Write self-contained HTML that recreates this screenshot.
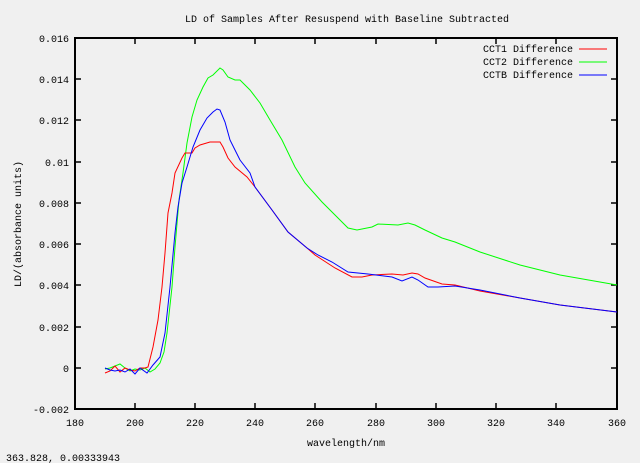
<!DOCTYPE html>
<html><head><style>body{margin:0;background:#f0f0f0}svg{display:block}text{font-family:"Liberation Mono","DejaVu Sans Mono",monospace;font-size:10px;fill:#000}</style></head><body>
<svg width="640" height="463" viewBox="0 0 640 463">
<rect width="640" height="463" fill="#f0f0f0"/>
<text x="347" y="22" text-anchor="middle">LD of Samples After Resuspend with Baseline Subtracted</text>
<g stroke="#000" stroke-width="1.5">
<path d="M75,79h6M75,120h6M75,162h6M75,203h6M75,244h6M75,285h6M75,327h6M75,368h6M611,79h6M611,120h6M611,162h6M611,203h6M611,244h6M611,285h6M611,327h6M611,368h6"/>
<path d="M135,409v-6M195,409v-6M255,409v-6M315,409v-6M376,409v-6M436,409v-6M496,409v-6M556,409v-6M135,38v6M195,38v6M255,38v6M315,38v6M376,38v6M436,38v6M496,38v6M556,38v6"/>
</g>
<rect x="75" y="38" width="542" height="371" fill="none" stroke="#000" stroke-width="2"/>
<g text-anchor="end">
<text x="69" y="42">0.016</text><text x="69" y="83">0.014</text><text x="69" y="124">0.012</text><text x="69" y="166">0.01</text><text x="69" y="207">0.008</text><text x="69" y="248">0.006</text><text x="69" y="289">0.004</text><text x="69" y="331">0.002</text><text x="69" y="372">0</text><text x="69" y="413">-0.002</text>
</g>
<g text-anchor="middle">
<text x="75" y="426">180</text><text x="135" y="426">200</text><text x="195" y="426">220</text><text x="255" y="426">240</text><text x="315" y="426">260</text><text x="376" y="426">280</text><text x="436" y="426">300</text><text x="496" y="426">320</text><text x="556" y="426">340</text><text x="617" y="426">360</text>
<text x="346" y="446">wavelength/nm</text>
</g>
<text transform="translate(21,224) rotate(-90)" text-anchor="middle">LD/(absorbance units)</text>
<text x="6" y="461">363.828,  0.00333943</text>
<g text-anchor="end"><text x="573" y="52">CCT1 Difference</text><text x="573" y="65">CCT2 Difference</text><text x="573" y="78">CCTB Difference</text></g>
<path d="M579,49h28" stroke="#f00"/><path d="M579,62h28" stroke="#0f0"/><path d="M579,75h28" stroke="#00f"/>
<g fill="none" stroke-width="1">
<polyline stroke="#0f0" points="105,369 110,368 115,366 120,364 125,368 130,371 135,369 140,370 145,368 150,372 155,369 160,363 164,352 167,333 172,287 175,247 179,200 183,173 187,143 192,117 197,100 203,87 208,78 213,75 220,68 223,70 228,77 235,80 240,80 250,90 260,103 270,120 282,140 295,167 305,183 322,202 335,215 348,228 357,230 372,227 378,224 398,225 408,223 415,225 425,230 442,238 455,242 480,252 520,265 560,275 617,285"/>
<polyline stroke="#f00" points="105,373 110,371 115,366 120,372 125,368 130,370 135,371 140,368 145,368 148,367 153,347 158,320 162,287 165,253 168,213 172,193 175,173 182,158 185,153 192,153 195,148 200,145 210,142 220,142 223,147 228,158 235,167 247,177 255,187 272,210 288,232 307,248 315,255 335,268 352,277 362,277 372,275 392,274 403,275 412,273 418,274 425,278 442,284 455,285 480,291 520,298 560,305 617,312"/>
<polyline stroke="#00f" points="105,368 110,370 115,371 120,370 125,372 130,369 135,374 140,368 147,373 153,365 160,357 165,333 170,287 175,233 178,207 182,183 187,167 193,147 200,130 207,118 213,112 217,109 220,110 225,122 230,140 235,150 240,160 250,173 255,187 272,210 288,232 307,248 318,255 332,262 348,272 368,274 392,277 402,281 412,277 418,280 428,287 438,287 455,286 480,290 520,298 560,305 617,312"/>
</g>
</svg>
</body></html>
